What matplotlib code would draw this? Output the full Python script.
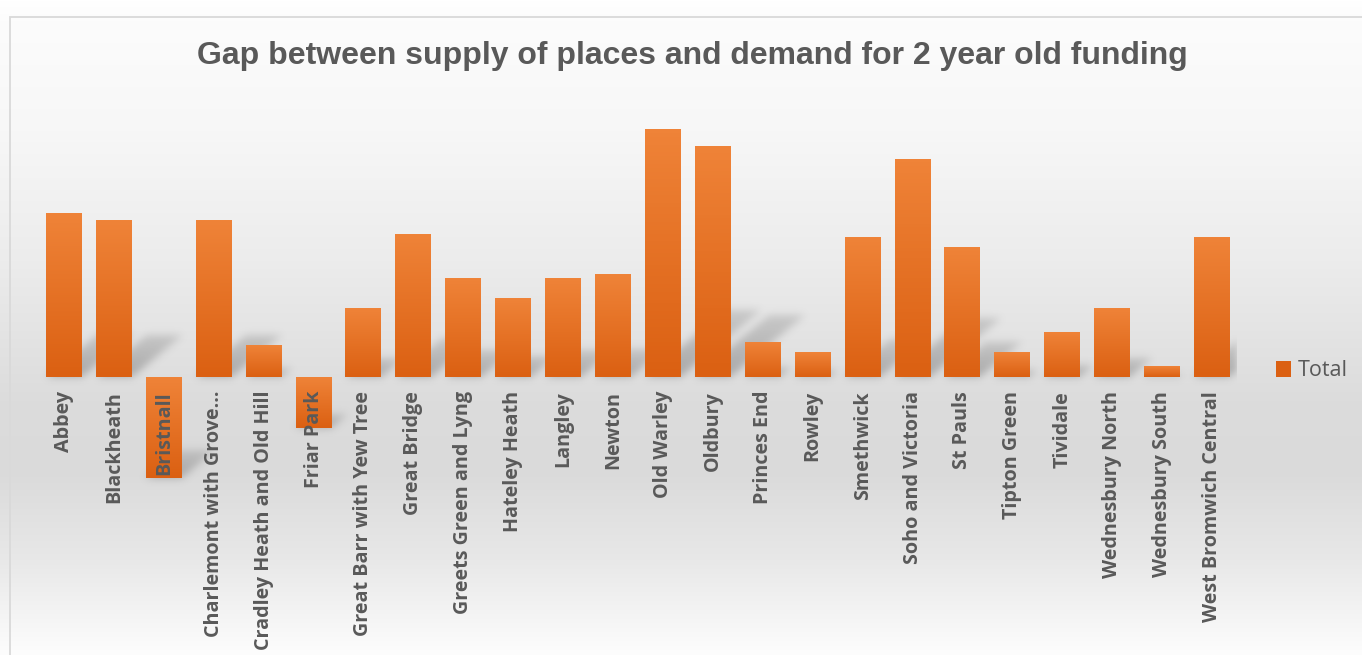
import numpy as np
import matplotlib
matplotlib.use("Agg")
import matplotlib.pyplot as plt
from matplotlib.patches import Patch, Rectangle

# ward names as shown on the axis (one is cut off in the original)
wards = ['Abbey', 'Blackheath', 'Bristnall', 'Charlemont with Grove…',
         'Cradley Heath and Old Hill', 'Friar Park', 'Great Barr with Yew Tree',
         'Great Bridge', 'Greets Green and Lyng', 'Hateley Heath', 'Langley',
         'Newton', 'Old Warley', 'Oldbury', 'Princes End', 'Rowley',
         'Smethwick', 'Soho and Victoria', 'St Pauls', 'Tipton Green',
         'Tividale', 'Wednesbury North', 'Wednesbury South',
         'West Bromwich Central']

# gap values (no axis in the chart, so these are relative estimates)
gap = [164, 157, -101, 157, 32, -51, 69, 143, 99, 79, 99, 103,
       248, 231, 35, 25, 140, 218, 130, 25, 45, 69, 11, 140]

series_name = 'Total'
title = 'Gap between supply of places and demand for 2 year old funding'

W, H = 1362, 655
grey_txt = '#595959'
orange_top = np.array([0xEF, 0x83, 0x38]) / 255
orange_bot = np.array([0xDB, 0x60, 0x12]) / 255

fig = plt.figure(figsize=(W / 100, H / 100), dpi=100)

# background gradient over whole chart area
bg = fig.add_axes([0, 0, 1, 1], zorder=-10)
bg.axis('off')
rows = np.arange(H)
lev = np.interp(rows, [0, 20, 130, 260, 400, 470, 560, 650],
                [255, 252, 247, 236, 220, 218, 232, 252]) / 255
bg_img = np.repeat(lev[:, None, None], 3, axis=2) * np.ones((1, 4, 1))
bg.imshow(bg_img, extent=(0, 1, 0, 1), aspect='auto', transform=bg.transAxes)
bg.add_patch(Rectangle((9.5 / W, -0.1), 2, 1 - 16.5 / H + 0.1, transform=bg.transAxes,
                       fill=False, edgecolor='#D9D9D9', linewidth=1.3))
bg.set_xlim(0, 1)
bg.set_ylim(0, 1)

# plot area
base_px = 377
top_lim, bot_lim = 260, -110
ax = fig.add_axes([39 / W, 1 - (base_px - bot_lim) / H, 1198 / W, (top_lim - bot_lim) / H])
ax.patch.set_alpha(0)
n = len(gap)
xs = np.arange(n)
bw = 0.72

# soft drop shadows behind the bars
gx = np.linspace(-0.5, n - 0.5, 1200)
gy = np.linspace(bot_lim, top_lim, 370)
XX, YY = np.meshgrid(gx, gy)
shade = np.zeros_like(XX)
slot_px = 1198 / n
for x, v in zip(xs, gap):
    y0 = 0 if v > 0 else v
    L = 0.27 * abs(v)
    t = YY - y0
    xo = XX - t * 1.2 / slot_px
    m = (t >= 0) & (t <= L) & (xo >= x - bw / 2) & (xo <= x + bw / 2)
    shade = np.maximum(shade, m * (1 - 0.5 * np.clip(t / max(L, 1), 0, 1)))
k = np.exp(-0.5 * (np.arange(-12, 13) / 4.0) ** 2)
k /= k.sum()
shade = np.apply_along_axis(lambda r: np.convolve(r, k, mode='same'), 1, shade)
shade = np.apply_along_axis(lambda c: np.convolve(c, k, mode='same'), 0, shade)
sh_img = np.zeros(shade.shape + (4,))
sh_img[..., :3] = 0.45
sh_img[..., 3] = shade * 0.5
ax.imshow(sh_img, extent=(-0.5, n - 0.5, bot_lim, top_lim), origin='lower',
          aspect='auto', zorder=0.5, interpolation='bilinear')

# bars with vertical gradient
bars = ax.bar(xs, gap, width=bw, color=orange_bot, zorder=1)
grad = np.linspace(0, 1, 64)[:, None, None]
grad_img = orange_bot * (1 - grad) + orange_top * grad
for b in bars:
    x0, y0 = b.get_x(), b.get_y()
    bh = b.get_height()
    lo, hi = min(y0, y0 + bh), max(y0, y0 + bh)
    ax.imshow(grad_img, extent=(x0, x0 + b.get_width(), lo, hi), origin='lower',
              aspect='auto', zorder=1.1)

ax.set_xlim(-0.5, n - 0.5)
ax.set_ylim(bot_lim, top_lim)
# category labels hang from the zero line, like in the original
ax.spines['bottom'].set_position(('data', 0))
for s in ax.spines.values():
    s.set_visible(False)
ax.set_yticks([])
ax.set_xticks(xs)
ax.set_xticklabels(wards, rotation=90, fontsize=14.2, fontweight='bold',
                   color=grey_txt, family='Open Sans', va='top')
ax.tick_params(axis='x', length=0, pad=10)
for lbl in ax.get_xticklabels():
    lbl.set_zorder(5)

fig.text(692 / W, 1 - 56 / H, title, ha='center', va='center', fontsize=23,
         fontweight='bold', color=grey_txt, family='Liberation Sans')

fig.legend(handles=[Patch(facecolor=orange_bot)], labels=[series_name],
           loc='center left', bbox_to_anchor=(1276 / W, 1 - 371 / H),
           frameon=False, handlelength=0.7, handleheight=0.7,
           handletextpad=0.3, borderpad=0, borderaxespad=0,
           prop={'family': 'Open Sans', 'size': 15.5},
           labelcolor=grey_txt)

fig.savefig('out.png', dpi=100)
